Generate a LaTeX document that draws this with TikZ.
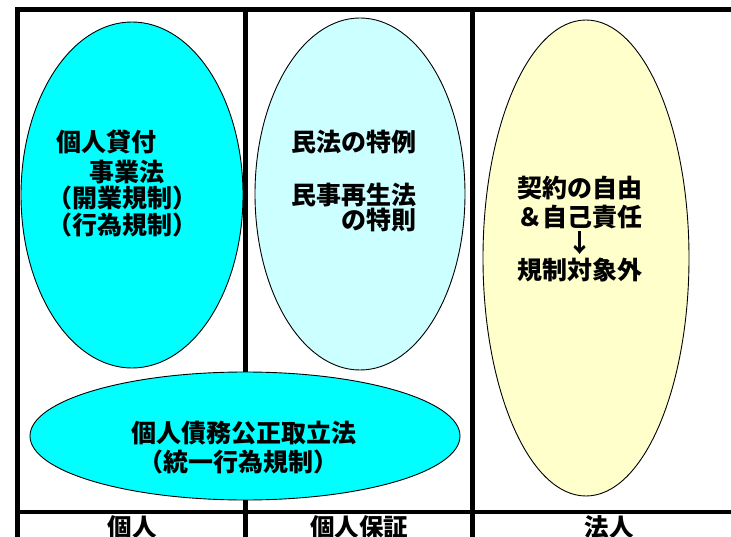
\documentclass[tikz,border=0pt]{standalone}
\usepackage{fontspec}
\usepackage{tikz}
\usetikzlibrary{shapes.geometric}
\newfontfamily\jpfont{Noto Sans CJK JP}
\definecolor{brightcyan}{RGB}{0,255,255}
\definecolor{paleblue}{HTML}{CCFFFF}
\definecolor{paleyellow}{HTML}{FFFFCC}
\tikzset{
  frame/.style={line width=4.5pt},
  bubble/.style={ellipse, draw=black, line width=0.9pt, inner sep=0pt},
  txt/.style={font=\jpfont\bfseries\fontsize{25}{28}\selectfont, inner sep=0pt, anchor=west},
  colname/.style={font=\jpfont\bfseries\fontsize{24.5}{28}\selectfont, inner sep=0pt}
}
\begin{document}
\begin{tikzpicture}[x=1pt,y=-1pt]
    \useasboundingbox (0,0) rectangle (731,537);
    \draw[frame] (15,9.5) -- (731,9.5);
    \draw[frame] (15,512) -- (731,512);
    \draw[frame] (17.5,9.5) -- (17.5,537);
    \draw[frame] (245.5,9.5) -- (245.5,537);
    \draw[frame] (472.5,9.5) -- (472.5,537);
    \node[bubble, fill=brightcyan, minimum width=222pt, minimum height=346pt] (kashitsuke) at (132,195) {};
    \node[bubble, fill=paleblue, minimum width=210pt, minimum height=352pt] (hosho) at (360,194) {};
    \node[bubble, fill=paleyellow, minimum width=206pt, minimum height=476pt] (hojin) at (586,258) {};
    \node[bubble, fill=brightcyan, minimum width=430pt, minimum height=128pt] (toritate) at (245,436) {};
  \node[txt] (k1) at (56,142) {個人貸付};
  \node[txt] (k2) at (89,172) {事業法};
  \node[txt] (k3) at (47,198) {（開業規制）};
  \node[txt] (k4) at (47,225) {（行為規制）};
  \node[txt] (h1) at (291,142) {民法の特例};
  \node[txt] (h2) at (291,195) {民事再生法};
  \node[txt] (h3) at (341,220) {の特則};
  \node[txt] (j1) at (517,188) {契約の自由};
  \node[txt] (j2) at (517,217) {＆自己責任};
  \node[txt, anchor=center] (j3) at (580,243) {↓};
  \node[txt] (j4) at (517,270) {規制対象外};
  \node[txt] (t1) at (131,433) {個人債務公正取立法};
  \node[txt] (t2) at (138,462) {（統一行為規制）};
  \node[colname] (c1) at (132,527) {個人};
  \node[colname] (c2) at (359,527) {個人保証};
  \node[colname] (c3) at (609,527) {法人};
\end{tikzpicture}
\end{document}
